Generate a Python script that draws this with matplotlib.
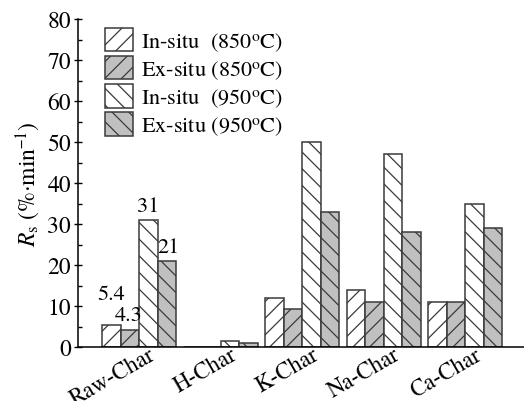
import matplotlib
matplotlib.use("Agg")
import matplotlib.pyplot as plt
import numpy as np
from matplotlib.ticker import MultipleLocator

categories = ["Raw-Char", "H-Char", "K-Char", "Na-Char", "Ca-Char"]
series_names = ["In-situ  (850$^{\\rm o}$C)", "Ex-situ (850$^{\\rm o}$C)",
                "In-situ  (950$^{\\rm o}$C)", "Ex-situ (950$^{\\rm o}$C)"]
insitu_850 = [5.4, 0, 12, 14, 11]
exsitu_850 = [4.3, 0, 9.2, 11, 11]
insitu_950 = [31, 1.5, 50, 47, 35]
exsitu_950 = [21, 1.1, 33, 28, 29]
raw_labels = ["5.4", "4.3", "31", "21"]

plt.rcParams['font.family'] = ['TeX Gyre Termes', 'Liberation Serif', 'DejaVu Serif']
plt.rcParams['mathtext.fontset'] = 'custom'
plt.rcParams['mathtext.rm'] = 'TeX Gyre Termes'
plt.rcParams['mathtext.it'] = 'TeX Gyre Termes:italic'
plt.rcParams['mathtext.sf'] = 'TeX Gyre Termes'
plt.rcParams['hatch.linewidth'] = 0.9

fig = plt.figure(figsize=(5.24, 4.02), dpi=100)
ax = fig.add_axes([0.149, 0.134, 0.851, 0.816])

series = [insitu_850, exsitu_850, insitu_950, exsitu_950]
faces = ['white', '#c0c0c0', 'white', '#c0c0c0']
hatches = ['//', '//', '\\\\', '\\\\']
w = 0.227
x = np.arange(len(categories))
for j, (vals, fc, h, name) in enumerate(zip(series, faces, hatches, series_names)):
    ax.bar(x + (j - 1.5) * w, vals, width=w, facecolor=fc, edgecolor='#3a3a3a',
           hatch=h, linewidth=1.1, label=name)

# annotations on Raw-Char bars
offsets = [5, 1, 1, 1]
xoff = [0, -0.02, 0, 0.02]
for j in range(4):
    v = series[j][0]
    ax.text(x[0] + (j - 1.5) * w + xoff[j], v + offsets[j], raw_labels[j],
            ha='center', va='bottom', fontsize=16)

ax.set_xlim(-0.75, 4.72)
ax.set_ylim(0, 80)
ax.spines['top'].set_visible(False)
ax.spines['right'].set_visible(False)
ax.spines['left'].set_linewidth(1.1)
ax.spines['bottom'].set_linewidth(1.1)
ax.yaxis.set_major_locator(MultipleLocator(10))
ax.yaxis.set_minor_locator(MultipleLocator(5))
ax.tick_params(axis='y', which='major', direction='inout', length=6, width=1, labelsize=17, pad=2)
ax.tick_params(axis='y', which='minor', direction='in', length=3, width=1)
ax.set_xticks(x + 0.11)
ax.set_xticklabels(categories, fontsize=16.5)
ax.tick_params(axis='x', length=0, pad=-2.5)
for lbl in ax.get_xticklabels():
    lbl.set_rotation(30)
    lbl.set_rotation_mode('anchor')
    lbl.set_ha('right')
    lbl.set_va('top')
ax.set_ylabel("$R_{\\rm s}$ (%$\\cdot$min$^{-1}$)", fontsize=17, labelpad=4)

leg = ax.legend(loc='upper left', bbox_to_anchor=(0.03, 1.015), frameon=False,
                fontsize=16, handlelength=1.26, handleheight=1.26,
                labelspacing=0.14, handletextpad=0.35, borderaxespad=0.2)

fig.savefig("out.png", dpi=100)
